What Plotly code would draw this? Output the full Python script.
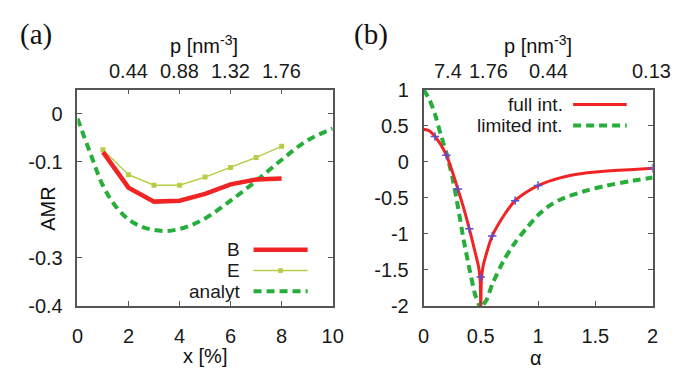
import plotly.graph_objects as go

# ---------------- panel (a): AMR vs doping x ----------------
x_sim = [1, 2, 3, 4, 5, 6, 7, 8]
amr_B = [-0.080, -0.154, -0.183, -0.181, -0.167, -0.147, -0.137, -0.135]
amr_E = [-0.075, -0.127, -0.149, -0.149, -0.132, -0.112, -0.091, -0.068]

x_analyt = [0, 0.5, 1, 1.5, 2, 2.5, 3, 3.5, 4, 4.5, 5, 6, 7, 8, 9, 10]
amr_analyt = [-0.010, -0.082, -0.150, -0.193, -0.220, -0.235, -0.242, -0.244,
              -0.240, -0.231, -0.218, -0.181, -0.140, -0.096, -0.056, -0.031]

a_xticks = [0, 2, 4, 6, 8, 10]
a_yticks_labelled = [0, -0.1, -0.3, -0.4]
a_yticktext = ["0", "-0.1", "-0.3", "-0.4"]
a_yticks_bare = [-0.2]          # the AMR title sits where this label would be
a_top_ticks = [2, 4, 6, 8]
a_top_text = ["0.44", "0.88", "1.32", "1.76"]

# ---------------- panel (b): AMR vs alpha ----------------
alpha_full = [0, 0.05, 0.1, 0.15, 0.2, 0.25, 0.3, 0.35, 0.4, 0.45, 0.48, 0.495,
              0.5, 0.505, 0.52, 0.55, 0.6, 0.7, 0.8, 0.9, 1.0, 1.2, 1.4, 1.6,
              1.8, 2.0]
amr_full = [0.45, 0.43, 0.35, 0.24, 0.09, -0.13, -0.38, -0.64, -0.93, -1.25,
            -1.45, -1.65, -2.10, -1.65, -1.45, -1.27, -1.03, -0.75, -0.54,
            -0.42, -0.33, -0.22, -0.16, -0.13, -0.11, -0.09]

alpha_pts = [0.1, 0.2, 0.3, 0.4, 0.5, 0.6, 0.8, 1.0, 2.0]
amr_pts = [0.35, 0.09, -0.38, -0.93, -1.60, -1.03, -0.54, -0.33, -0.09]

alpha_lim = [0, 0.05, 0.1, 0.15, 0.2, 0.25, 0.3, 0.35, 0.4, 0.45, 0.48, 0.5,
             0.52, 0.55, 0.6, 0.7, 0.8, 0.9, 1.0, 1.1, 1.2, 1.4, 1.6, 1.8, 2.0]
amr_lim = [1.0, 0.87, 0.66, 0.38, 0.12, -0.20, -0.62, -1.08, -1.48, -1.84,
           -1.97, -2.05, -1.99, -1.92, -1.70, -1.37, -1.12, -0.92, -0.74,
           -0.61, -0.52, -0.41, -0.33, -0.27, -0.22]

b_xticks = [0, 0.5, 1, 1.5, 2]
b_xticktext = ["0", "0.5", "1", "1.5", "2"]
b_yticks = [1, 0.5, 0, -0.5, -1, -1.5, -2]
b_yticktext = ["1", "0.5", "0", "-0.5", "-1", "-1.5", "-2"]
b_top_ticks = [0.227, 0.483, 1.104, 2.0]
b_top_labels = ["7.4", "1.76", "0.44", "0.13"]
b_top_label_pos = [0.21, 0.568, 1.093, 1.993]

RED = "#f02424"
GREEN = "#27ae3a"
YGREEN = "#b9cc46"
BLUE = "#5a4fd0"
FRAME = "#555555"
SANS = "Liberation Sans, Arial, sans-serif"
FONT = dict(family=SANS, size=20, color="#1a1a1a")
KEYFONT = dict(family=SANS, size=19, color="#1a1a1a")

fig = go.Figure()

fig.add_trace(go.Scatter(x=x_analyt, y=amr_analyt, mode="lines", line_shape="spline",
                         line=dict(color=GREEN, width=4, dash="8px,5px"),
                         xaxis="x", yaxis="y", showlegend=False))
fig.add_trace(go.Scatter(x=x_sim, y=amr_E, mode="lines+markers",
                         line=dict(color=YGREEN, width=1.5),
                         marker=dict(symbol="square", size=5, color=YGREEN),
                         xaxis="x", yaxis="y", showlegend=False))
fig.add_trace(go.Scatter(x=x_sim, y=amr_B, mode="lines",
                         line=dict(color=RED, width=4.5),
                         xaxis="x", yaxis="y", showlegend=False))

fig.add_trace(go.Scatter(x=alpha_lim, y=amr_lim, mode="lines", line_shape="spline",
                         line=dict(color=GREEN, width=4, dash="8px,5px", smoothing=0.6),
                         xaxis="x2", yaxis="y2", showlegend=False))
fig.add_trace(go.Scatter(x=alpha_full, y=amr_full, mode="lines", line_shape="spline",
                         line=dict(color=RED, width=3, smoothing=0.6),
                         xaxis="x2", yaxis="y2", showlegend=False))
fig.add_trace(go.Scatter(x=alpha_pts, y=amr_pts, mode="markers",
                         marker=dict(symbol="cross-thin", size=6, color=BLUE,
                                     line=dict(color=BLUE, width=1.5)),
                         xaxis="x2", yaxis="y2", showlegend=False))

Y_DOM = [0.1785, 0.781]
axis_common = dict(showgrid=False, zeroline=False, showline=True, linecolor=FRAME,
                   linewidth=1.5, ticks="inside", ticklen=5, tickcolor=FRAME,
                   tickwidth=1.2, tickfont=FONT)
bare_common = dict(showgrid=False, zeroline=False, showline=False, ticks="inside",
                   ticklen=5, tickcolor=FRAME, tickwidth=1.2, showticklabels=False)

fig.update_layout(
    width=685, height=381, margin=dict(l=0, r=0, t=0, b=0),
    paper_bgcolor="white", plot_bgcolor="white",
    xaxis=dict(domain=[0.107, 0.489], range=[0, 10], tickvals=a_xticks,
               mirror="ticks", anchor="y", ticklabelstandoff=11, **axis_common),
    yaxis=dict(domain=Y_DOM, range=[-0.4, 0.05], tickvals=a_yticks_labelled,
               ticktext=a_yticktext, mirror="ticks", anchor="x",
               ticklabelstandoff=9, **axis_common),
    yaxis3=dict(overlaying="y", anchor="x", range=[-0.4, 0.05],
                tickvals=a_yticks_bare, mirror="ticks", **bare_common),
    xaxis3=dict(overlaying="x", side="top", anchor="y", range=[0, 10],
                tickvals=a_top_ticks, **bare_common),
    xaxis2=dict(domain=[0.625, 0.968], range=[0, 2], tickvals=b_xticks,
                ticktext=b_xticktext, mirror=True, anchor="y2",
                ticklabelstandoff=11, **axis_common),
    yaxis2=dict(domain=Y_DOM, range=[-2, 1], tickvals=b_yticks,
                ticktext=b_yticktext, mirror="ticks", anchor="x2",
                ticklabelstandoff=9, **axis_common),
    xaxis4=dict(overlaying="x2", side="top", anchor="y2", range=[0, 2],
                tickvals=b_top_ticks, **bare_common),
)

annotations = []
TOP_LABEL_Y = (381 - 63.3) / 381


def px_to_paper(px, py):
    return px / 685.0, (381.0 - py) / 381.0


def text_at(px, py, text, size=20, family=SANS, angle=0):
    xp, yp = px_to_paper(px, py)
    annotations.append(dict(x=xp, y=yp, xref="paper", yref="paper", text=text,
                            showarrow=False, xanchor="center", yanchor="middle",
                            textangle=angle,
                            font=dict(family=family, size=size, color="#111111")))


SERIF = "Liberation Serif, Times New Roman, serif"
text_at(31, 25, "(a)", size=29, family=SERIF)
text_at(374, 25, "(b)", size=29, family=SERIF)
text_at(203, 36, "p [nm<sup>-3</sup>]")
text_at(546, 36, "p [nm<sup>-3</sup>]")
text_at(43, 210, "AMR", angle=-90)
text_at(204, 366, "x [%]")
text_at(543, 368, "α")

# density labels along the top edges
for pos, lab in zip(a_top_ticks, a_top_text):
    annotations.append(dict(x=pos, y=TOP_LABEL_Y, xref="x", yref="paper", text=lab,
                            showarrow=False, xanchor="center", yanchor="middle",
                            font=FONT))
for pos, lab in zip(b_top_label_pos, b_top_labels):
    annotations.append(dict(x=pos, y=TOP_LABEL_Y, xref="x2", yref="paper", text=lab,
                            showarrow=False, xanchor="center", yanchor="middle",
                            font=FONT))

# key entries: right-aligned text followed by a line sample
shapes = []


def key_entry(xref, yref, text_right, x0, x1, y, label, color, width, dash=None,
              marker=False):
    annotations.append(dict(x=text_right, y=y, xref=xref, yref=yref, text=label,
                            showarrow=False, xanchor="right", yanchor="middle",
                            font=KEYFONT))
    ln = dict(color=color, width=width)
    if dash:
        ln["dash"] = dash
    shapes.append(dict(type="line", xref=xref, yref=yref, x0=x0, x1=x1, y0=y, y1=y,
                       line=ln))
    if marker:
        xm = (x0 + x1) / 2
        shapes.append(dict(type="rect", xref=xref, yref=yref, x0=xm - 0.009,
                           x1=xm + 0.009, y0=y - 0.011, y1=y + 0.011,
                           fillcolor=color, line=dict(width=0)))


key_entry("x domain", "y domain", 0.645, 0.69, 0.902, 0.2593, "B", RED, 4.5)
key_entry("x domain", "y domain", 0.645, 0.69, 0.902, 0.1634, "E", YGREEN, 1.5,
          marker=True)
key_entry("x domain", "y domain", 0.645, 0.69, 0.902, 0.0675, "analyt", GREEN, 4,
          dash="8px,5px")
key_entry("x2 domain", "y2 domain", 0.617, 0.653, 0.887, 0.931, "full int.", RED, 3)
key_entry("x2 domain", "y2 domain", 0.617, 0.653, 0.887, 0.834, "limited int.",
          GREEN, 4, dash="8px,5px")

fig.update_layout(annotations=annotations, shapes=shapes)

fig.write_html("out.html")
